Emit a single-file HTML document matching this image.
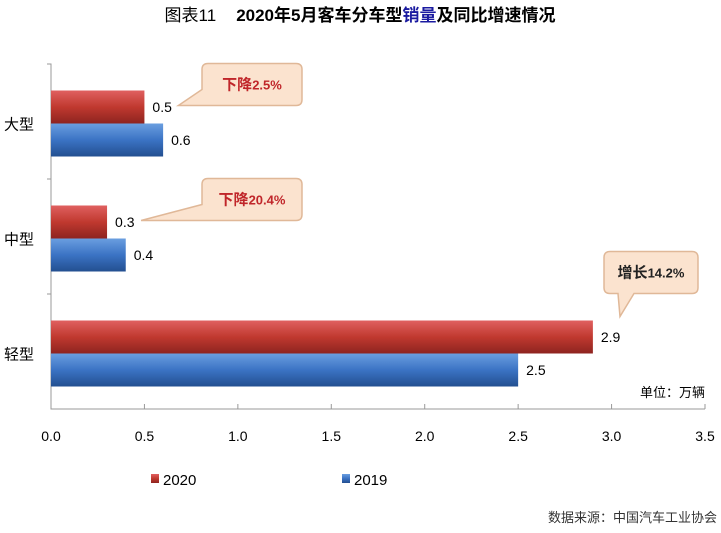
<!DOCTYPE html>
<html><head><meta charset="utf-8"><style>
body{margin:0;background:#fff;width:721px;height:528px;overflow:hidden}
svg text{font-family:"Liberation Sans","Noto Sans CJK SC",sans-serif}
</style></head><body>
<svg id="c" width="721" height="528">
<defs>
<linearGradient id="gr" x1="0" y1="0" x2="0" y2="1"><stop offset="0" stop-color="#e06060"/><stop offset="0.5" stop-color="#c0392f"/><stop offset="1" stop-color="#8e2420"/></linearGradient>
<linearGradient id="gb" x1="0" y1="0" x2="0" y2="1"><stop offset="0" stop-color="#6a9ee0"/><stop offset="0.5" stop-color="#3b73c4"/><stop offset="1" stop-color="#234f90"/></linearGradient>
</defs>
<text x="360" y="21" text-anchor="middle" font-size="17" font-weight="bold"><tspan font-weight="normal">图表11</tspan><tspan dx="20">2020年5月客车分车型</tspan><tspan fill="#1a1aa0">销量</tspan><tspan>及同比增速情况</tspan></text>
<g id="plot"></g>
<text x="705" y="397" text-anchor="end" font-size="13">单位：万辆</text>
<rect x="151" y="474" width="8" height="9" fill="url(#gr)"/>
<text x="163" y="485" font-size="15">2020</text>
<rect x="342" y="474" width="8" height="9" fill="url(#gb)"/>
<text x="354" y="485" font-size="15">2019</text>
<text x="717" y="522" text-anchor="end" font-size="13" fill="#333">数据来源：中国汽车工业协会</text>
</svg>
<script>
const categories=["大型","中型","轻型"];
const values2020=[0.5,0.3,2.9];
const values2019=[0.6,0.4,2.5];
const ticks=[0,0.5,1,1.5,2,2.5,3,3.5];
const calloutWords=[["下降","2.5%"],["下降","20.4%"],["增长","14.2%"]];
const ns="http://www.w3.org/2000/svg",g=document.getElementById('plot');
const x0=51,x1=705,yTop=64,yBot=409,xmax=3.5;
const X=v=>x0+(x1-x0)*v/xmax;
const band=(yBot-yTop)/categories.length;
function el(t,a,txt){const e=document.createElementNS(ns,t);for(const k in a)e.setAttribute(k,a[k]);if(txt!=null)e.textContent=txt;g.appendChild(e);return e;}
let ax=el('path',{d:`M${x0-4},${yTop}H${x0}V${yBot}H${x1}`,stroke:'#999',fill:'none'});


ticks.forEach(t=>{
 let l=el('line',{x1:X(t),x2:X(t),y1:yBot,y2:yBot-5,stroke:'#999'});
 
 
 let tx=el('text',{x:X(t),y:441,'text-anchor':'middle','font-size':14},t.toFixed(1));
 
 
});
for(let i=1;i<categories.length;i++){let l=el('line',{x1:x0-4,x2:x0,y1:yTop+band*i,y2:yTop+band*i,stroke:'#999'});}
const bh=33;
categories.forEach((c,i)=>{
 const cy=yTop+band*i+band/2+2;
 let lb=el('text',{x:4,y:cy+6,'font-size':15},c);
 
 
 [[values2020,'gr',cy-bh,'2020'],[values2019,'gb',cy,'2019']].forEach(([arr,f,y,s])=>{
  let r=el('rect',{x:x0,y:y,width:X(arr[i])-x0,height:bh,fill:`url(#${f})`});
  
  
  let v=el('text',{x:X(arr[i])+8,y:y+bh/2+5,'font-size':14},arr[i].toFixed(1));
  
  
 });
 const last=i===categories.length-1;
 let bx,by,bw,bhh=42,path;
 if(!last){bx=202;bw=100;by=cy-bh-27;
  const tx=X(values2020[i])+34,ty=cy-bh+15;
  path=`M${bx+6},${by}H${bx+bw-6}Q${bx+bw},${by} ${bx+bw},${by+6}V${by+bhh-6}Q${bx+bw},${by+bhh} ${bx+bw-6},${by+bhh}H${bx+14}L${tx},${ty}L${bx},${by+bhh-16}V${by+6}Q${bx},${by} ${bx+6},${by}Z`;
 }else{bx=604;bw=94;by=cy-bh-69;
  const tx=620,ty=cy-bh-4;
  path=`M${bx+6},${by}H${bx+bw-6}Q${bx+bw},${by} ${bx+bw},${by+6}V${by+bhh-6}Q${bx+bw},${by+bhh} ${bx+bw-6},${by+bhh}H${bx+30}L${tx},${ty}L${bx+14},${by+bhh}H${bx+6}Q${bx},${by+bhh} ${bx},${by+bhh-6}V${by+6}Q${bx},${by} ${bx+6},${by}Z`;
 }
 let p=el('path',{d:path,fill:'#fbe3cf',stroke:'#e0b898','stroke-width':1.5});
 
 
 let t=el('text',{x:bx+bw/2,y:by+26,'text-anchor':'middle','font-size':15,'font-weight':'bold',fill:last?'#222':'#c0262a'});
 
 
 const w=calloutWords[i];
 const a=document.createElementNS(ns,'tspan');a.textContent=w[0];t.appendChild(a);
 const b=document.createElementNS(ns,'tspan');b.setAttribute('font-size','13');b.textContent=w[1];t.appendChild(b);
});
</script>
</body></html>
